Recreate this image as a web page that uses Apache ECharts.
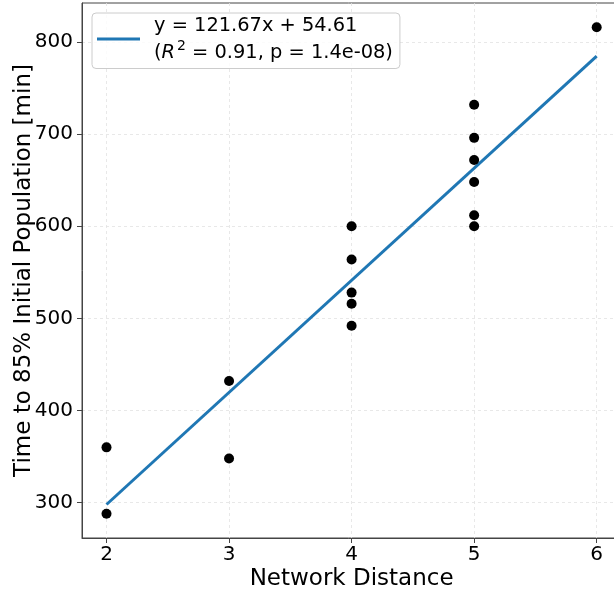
<!DOCTYPE html>
<html>
<head>
<meta charset="utf-8">
<script src="https://cdn.jsdelivr.net/npm/echarts@6/dist/echarts.min.js"></script>
<style>
  html, body { margin: 0; padding: 0; background: #fff; }
  #chart { width: 614px; height: 590px; }
</style>
</head>
<body>
<div id="chart"></div>
<script>
// network distance vs time to 85% of the initial population
var distance = [2, 2, 3, 3, 4, 4, 4, 4, 4, 5, 5, 5, 5, 5, 5, 6];
var timeMin = [360, 288, 432, 348, 600, 564, 528, 516, 492, 732, 696, 672, 648, 612, 600, 816];

// fitted line y = 121.67x + 54.61, end points
var fitX = [2, 6];
var fitY = [297.95, 784.63];

var xTicks = [2, 3, 4, 5, 6];
var yTicks = [300, 400, 500, 600, 700, 800];

var fitLine1 = 'y = 121.67x + 54.61';
var fitLine2 = ' = 0.91, p = 1.4e-08)';

var font = 'DejaVu Sans';

var points = [];
for (var i = 0; i < distance.length; i++) {
  points.push([distance[i], timeMin[i]]);
}
var fitData = [];
for (var j = 0; j < fitX.length; j++) {
  fitData.push([fitX[j], fitY[j]]);
}

var myChart = echarts.init(document.getElementById('chart'));
var option = {
  animation: false,
  backgroundColor: '#fff',
  grid: {
    left: 82, right: -7.2, top: 3, bottom: 52,
    show: true, borderColor: '#444', borderWidth: 1,
    outerBoundsMode: 'none', containLabel: false
  },
  legend: {
    data: ['fit'],
    left: 92, top: 13,
    icon: 'rect', itemWidth: 43, itemHeight: 3,
    padding: [3, 7, 3, 5],
    backgroundColor: 'rgba(255,255,255,0.8)',
    borderColor: '#cccccc', borderWidth: 1, borderRadius: 4,
    formatter: function () {
      return '{a|' + fitLine1 + '}\n{a|(}{i|R}{sup|2}{a|' + fitLine2 + '}';
    },
    textStyle: {
      color: '#000', fontFamily: font, fontSize: 19.4, padding: [0, 0, 0, 9],
      rich: {
        a: { fontFamily: font, fontSize: 19.4, lineHeight: 27, color: '#000' },
        i: { fontFamily: font, fontSize: 19.4, lineHeight: 27, fontStyle: 'italic', color: '#000' },
        sup: { fontFamily: font, fontSize: 14, lineHeight: 27, padding: [0, 0, 12, 2], color: '#000' }
      }
    }
  },
  xAxis: {
    type: 'value',
    min: 1.8, max: 6.2,
    name: 'Network Distance',
    nameLocation: 'middle',
    nameGap: 30,
    nameMoveOverlap: false,
    nameTextStyle: { fontFamily: font, fontSize: 23, color: '#000', verticalAlign: 'top' },
    axisLine: { show: true, lineStyle: { color: '#444', width: 1 } },
    axisTick: { show: true, customValues: xTicks, length: 5, lineStyle: { color: '#444' } },
    axisLabel: { customValues: xTicks, margin: 7, fontFamily: font, fontSize: 20, color: '#000' },
    splitLine: { show: true, lineStyle: { color: '#e2e2e2', type: [3, 3], width: 0.8 } }
  },
  yAxis: {
    type: 'value',
    min: 261.6, max: 842.4,
    name: 'Time to 85% Initial Population [min]',
    nameLocation: 'middle',
    nameGap: 46,
    nameMoveOverlap: false,
    nameTextStyle: { fontFamily: font, fontSize: 23, color: '#000' },
    axisLine: { show: true, lineStyle: { color: '#444', width: 1 } },
    axisTick: { show: true, customValues: yTicks, length: 5, lineStyle: { color: '#444' } },
    axisLabel: { customValues: yTicks, margin: 9, fontFamily: font, fontSize: 20, color: '#000' },
    splitLine: { show: true, lineStyle: { color: '#e2e2e2', type: [3, 3], width: 0.8 } }
  },
  series: [
    {
      name: 'fit',
      type: 'line',
      data: fitData,
      symbol: 'none',
      lineStyle: { color: '#1f77b4', width: 3 },
      itemStyle: { color: '#1f77b4' },
      z: 2
    },
    {
      name: 'points',
      type: 'scatter',
      data: points,
      symbolSize: 10,
      itemStyle: { color: '#000', opacity: 1 },
      z: 3
    }
  ]
};
myChart.setOption(option);
</script>
</body>
</html>
